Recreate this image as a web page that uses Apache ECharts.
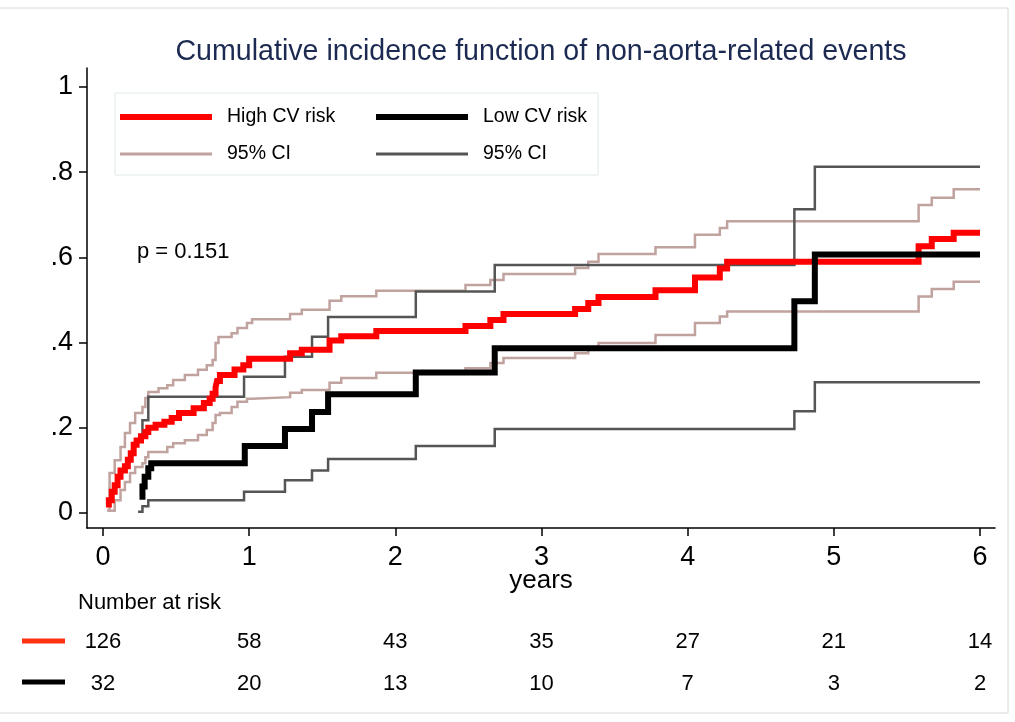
<!DOCTYPE html>
<html>
<head>
<meta charset="utf-8">
<script src="https://cdn.jsdelivr.net/npm/echarts@6/dist/echarts.min.js"></script>
<style>
html,body{margin:0;padding:0;background:#fff;}
#chart{width:1015px;height:722px;}
</style>
</head>
<body>
<div id="chart"></div>
<script>
// ---- tick values and labels ----
const years = [0, 1, 2, 3, 4, 5, 6];
const yTicks = [0, 0.2, 0.4, 0.6, 0.8, 1];
const yTickLabels = ['0', '.2', '.4', '.6', '.8', '1'];

// ---- numbers at risk ----
const riskHigh = [126, 58, 43, 35, 27, 21, 14];
const riskLow = [32, 20, 13, 10, 7, 3, 2];

// ---- High CV risk: cumulative incidence ----
const tHigh = [0.02,0.04,0.06,0.08,0.10,0.12,0.15,0.17,0.19,0.21,0.23,0.26,0.29,0.31,0.36,0.42,0.47,0.52,0.62,0.69,0.73,0.75,0.77,0.78,0.80,0.90,0.96,1.00,1.28,1.36,1.55,1.63,1.87,2.48,2.65,2.74,3.23,3.32,3.39,3.78,4.05,4.22,4.27,5.58,5.67,5.82,6.00];
const cifHigh = [0.020,0.030,0.050,0.065,0.085,0.100,0.110,0.125,0.140,0.160,0.170,0.180,0.190,0.200,0.207,0.214,0.223,0.235,0.246,0.258,0.268,0.280,0.295,0.310,0.324,0.337,0.347,0.362,0.375,0.383,0.405,0.415,0.427,0.439,0.453,0.467,0.479,0.493,0.507,0.523,0.553,0.574,0.590,0.626,0.643,0.658,0.658];

// ---- High CV risk: 95% CI ----
const tHighUp = [0.03,0.045,0.08,0.12,0.15,0.185,0.22,0.27,0.29,0.31,0.38,0.44,0.48,0.56,0.65,0.71,0.75,0.77,0.79,0.88,0.92,0.985,1.02,1.28,1.36,1.55,1.63,1.87,2.48,2.65,2.74,3.23,3.32,3.39,3.78,4.05,4.22,4.27,5.58,5.67,5.82,6.00];
const ciHighUp = [0.007,0.094,0.124,0.155,0.188,0.211,0.235,0.249,0.270,0.284,0.293,0.300,0.312,0.324,0.336,0.347,0.359,0.399,0.413,0.422,0.434,0.446,0.455,0.467,0.477,0.498,0.509,0.522,0.535,0.547,0.561,0.575,0.590,0.608,0.624,0.653,0.669,0.685,0.723,0.740,0.760,0.760];
const tHighLo = [0.03,0.08,0.12,0.15,0.185,0.22,0.27,0.29,0.31,0.44,0.48,0.56,0.65,0.71,0.75,0.77,0.80,0.88,0.92,0.985,1.02,1.28,1.36,1.55,1.63,1.87,2.48,2.65,2.74,3.23,3.32,3.39,3.78,4.05,4.22,4.27,5.58,5.67,5.82,6.00];
const ciHighLo = [0.005,0.030,0.054,0.073,0.094,0.108,0.117,0.131,0.143,0.155,0.164,0.171,0.183,0.195,0.211,0.230,0.235,0.249,0.261,0.268,0.272,0.282,0.289,0.306,0.317,0.329,0.340,0.352,0.364,0.375,0.387,0.399,0.418,0.446,0.461,0.473,0.508,0.526,0.543,0.543];

// ---- Low CV risk: cumulative incidence ----
const tLow = [0.25,0.27,0.285,0.31,0.33,0.97,1.245,1.43,1.54,2.14,2.68,4.73,4.87,6.00];
const cifLow = [0.038,0.062,0.085,0.105,0.117,0.157,0.197,0.237,0.279,0.330,0.387,0.497,0.607,0.607];

// ---- Low CV risk: 95% CI ----
const tLowCI = [0.24,0.27,0.31,0.965,1.245,1.43,1.54,2.14,2.68,4.73,4.87,6.00];
const ciLowUp = [0.171,0.218,0.273,0.320,0.367,0.414,0.460,0.520,0.582,0.713,0.813,0.813];
const ciLowLo = [0.003,0.016,0.030,0.050,0.077,0.100,0.127,0.157,0.197,0.239,0.307,0.307];

const zip = (ts, vs) => ts.map((t, i) => [t, vs[i]]);

const XMIN = -0.1094, XMAX = 6.1026;
const YMIN = -0.0352, YMAX = 1.0446;
const FONT = 'Liberation Sans, Arial, sans-serif';

const chart = echarts.init(document.getElementById('chart'), null, {renderer: 'canvas'});

function stepSeries(name, data, color, width) {
  return {
    type: 'line', name: name, data: data, step: 'end',
    showSymbol: false, symbol: 'none', silent: true,
    lineStyle: {color: color, width: width, join: 'miter', cap: 'butt'},
    itemStyle: {color: color},
    emphasis: {disabled: true}
  };
}

const riskAxis = (arr, offset) => ({
  type: 'value', gridIndex: 0, position: 'bottom', offset: offset,
  min: XMIN, max: XMAX,
  axisLine: {show: false}, axisTick: {show: false}, splitLine: {show: false},
  axisLabel: {
    customValues: years, margin: 0, fontSize: 22, fontFamily: FONT, color: '#000',
    formatter: v => String(arr[Math.round(v)])
  }
});

const legendItem = (name, left, top, thick) => ({
  data: [name], left: left, top: top, padding: 0,
  itemWidth: 92, itemHeight: thick, icon: 'rect', selectedMode: false,
  formatter: n => (n.indexOf('CI') >= 0 ? '95% CI' : n),
  textStyle: {fontSize: 19.5, color: '#000', fontFamily: FONT, padding: [0, 0, 0, 10]}
});

const option = {
  animation: false,
  backgroundColor: '#fff',
  title: {
    text: 'Cumulative incidence function of non-aorta-related events',
    left: 541, top: 38, textAlign: 'center', padding: 0,
    textStyle: {fontSize: 28.6, fontWeight: 'normal', color: '#1c2a52', fontFamily: FONT}
  },
  legend: [
    legendItem('High CV risk', 120, 107, 6),
    legendItem('Low CV risk', 376, 107, 6),
    legendItem('High CI', 120, 144, 3),
    legendItem('Low CI', 376, 144, 3)
  ],
  grid: {left: 87, top: 68, width: 908, height: 460, containLabel: false},
  xAxis: [
    {
      type: 'value', min: XMIN, max: XMAX,
      axisLine: {onZero: false, lineStyle: {color: '#000', width: 1.5}},
      axisTick: {customValues: years, length: 8, lineStyle: {color: '#000', width: 1.5}},
      axisLabel: {customValues: years, margin: 16, fontSize: 27, fontFamily: FONT, color: '#000',
                  formatter: v => String(Math.round(v))},
      splitLine: {show: false},
      name: 'years', nameLocation: 'middle', nameGap: 40, nameMoveOverlap: false,
      nameTextStyle: {fontSize: 26, fontFamily: FONT, color: '#000'}
    },
    riskAxis(riskHigh, 103),
    riskAxis(riskLow, 145)
  ],
  yAxis: {
    type: 'value', min: YMIN, max: YMAX,
    axisLine: {onZero: false, lineStyle: {color: '#000', width: 1.5}},
    axisTick: {customValues: yTicks, length: 8, lineStyle: {color: '#000', width: 1.5}},
    axisLabel: {customValues: yTicks, margin: 14, fontSize: 27, fontFamily: FONT, color: '#000',
                formatter: v => yTickLabels[Math.round(v * 5)]},
    splitLine: {show: false}
  },
  series: [
    stepSeries('High CI', zip(tHighUp, ciHighUp), '#c0a29e', 2.5),
    stepSeries('High CI', zip(tHighLo, ciHighLo), '#c0a29e', 2.5),
    stepSeries('Low CI', zip(tLowCI, ciLowUp), '#555555', 2.5),
    stepSeries('Low CI', zip(tLowCI, ciLowLo), '#555555', 2.5),
    stepSeries('High CV risk', zip(tHigh, cifHigh), '#ff0000', 6),
    stepSeries('Low CV risk', zip(tLow, cifLow), '#000000', 6)
  ],
  graphic: [
    {type: 'rect', shape: {x: -2, y: 8, width: 1010, height: 705}, silent: true,
     style: {fill: 'none', stroke: '#d8d8d8', lineWidth: 1}},
    {type: 'rect', shape: {x: 115, y: 93, width: 483, height: 82}, silent: true,
     style: {fill: 'none', stroke: '#dfe8e8', lineWidth: 1}},
    {type: 'text', x: 137, y: 252, silent: true,
     style: {text: 'p = 0.151', fontSize: 22, fontFamily: FONT, fill: '#000', verticalAlign: 'middle'}},
    {type: 'text', x: 78, y: 603, silent: true,
     style: {text: 'Number at risk', fontSize: 22, fontFamily: FONT, fill: '#000', verticalAlign: 'middle'}},
    {type: 'line', shape: {x1: 22, y1: 641, x2: 65, y2: 641}, silent: true,
     style: {stroke: '#ff3311', lineWidth: 5}},
    {type: 'line', shape: {x1: 22, y1: 682, x2: 65, y2: 682}, silent: true,
     style: {stroke: '#000', lineWidth: 5}}
  ]
};
chart.setOption(option);
</script>
</body>
</html>
